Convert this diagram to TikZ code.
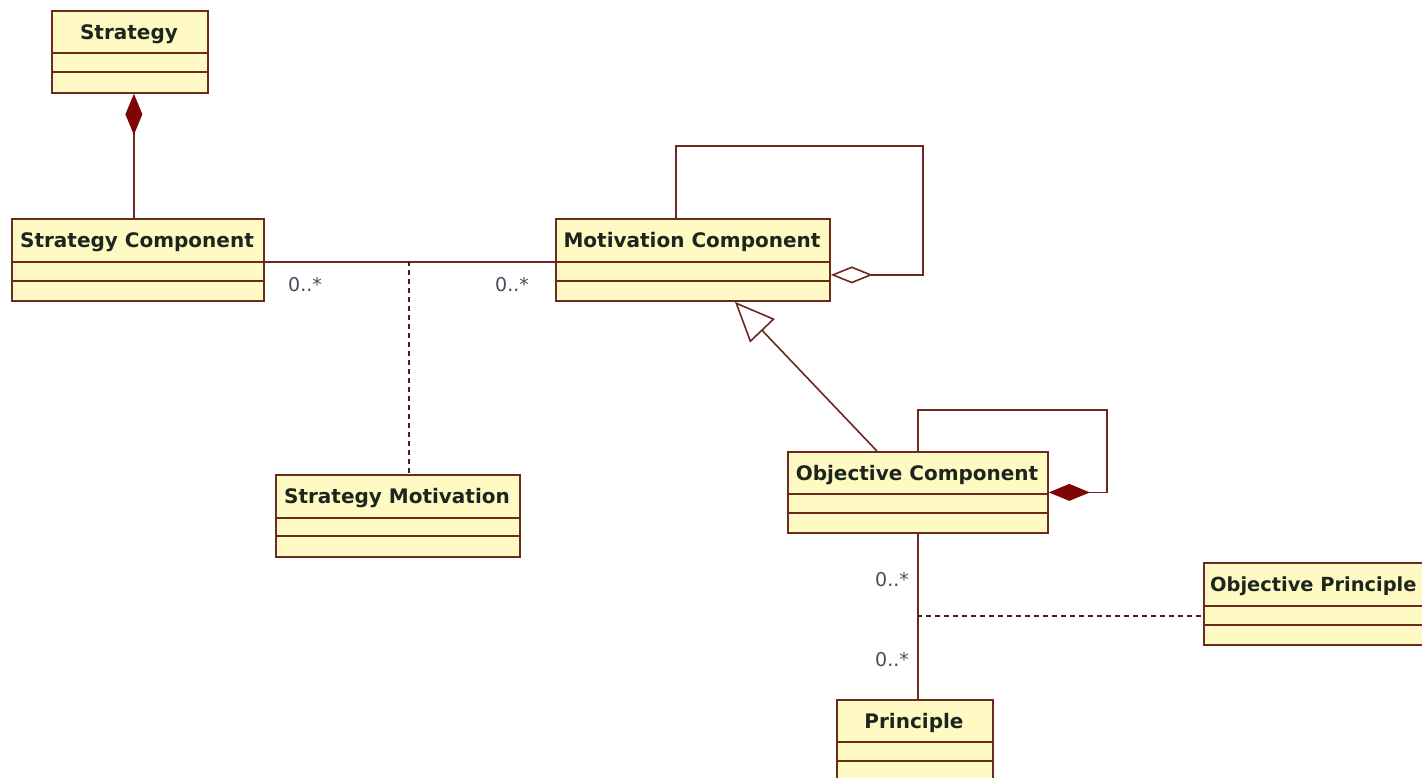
\documentclass[tikz,border=0pt]{standalone}
\usepackage{fontspec}
\setmainfont{DejaVu Sans}
\usetikzlibrary{arrows.meta}

\definecolor{classfill}{HTML}{FFFAC4}
\definecolor{classedge}{HTML}{6A2A1E}
\definecolor{darkred}{HTML}{7E0505}
\definecolor{titleink}{HTML}{1C261C}
\definecolor{multink}{HTML}{4A4A5C}

\tikzset{
  classbox/.style={draw=classedge, fill=classfill, line width=1.8pt, inner sep=0pt, rectangle},
  classsep/.style={draw=classedge, line width=1.6pt},
  classtitle/.style={text=titleink, font=\bfseries\fontsize{20}{24}\selectfont, inner sep=0pt, anchor=base},
  assoc/.style={draw=classedge, line width=1.6pt},
  anchorline/.style={draw=classedge!70!black, line width=1.4pt, dash pattern=on 5pt off 4pt},
  mult/.style={text=multink, font=\fontsize{19}{22}\selectfont, inner sep=0pt},
  composite/.style={assoc, {Diamond[length=41pt,width=17pt,fill=darkred,color=darkred]}-},
  shared/.style={assoc, {Diamond[open,length=42pt,width=17pt,fill=white]}-},
  inherit/.style={assoc, -{Triangle[open,length=40pt,width=34pt,fill=white]}},
}

% class box: name, left, top, right, bottom, first divider, second divider, title
\newcommand\umlclass[8]{%
  \node[classbox, anchor=north west,
        minimum width={(#4-#2)*1pt}, minimum height={(#5-#3)*1pt}] (#1) at (#2,#3) {};
  \draw[classsep] (#2,#6) -- (#4,#6);
  \draw[classsep] (#2,#7) -- (#4,#7);
  \node[classtitle] (#1-title) at ({(#2+#4)/2},{#3+29.5}) {#8};
}

\begin{document}
\begin{tikzpicture}[x=1pt,y=-1pt]
  \useasboundingbox (0,0) rectangle (1422,778);
  \fill[white] (0,0) rectangle (1422,778);
  \clip (0,0) rectangle (1422,778);

  % classes
  \umlclass{strat}{51}{10}{207}{92}{53}{72}{Strategy}
  \umlclass{scomp}{11}{218}{263}{300}{262}{281}{Strategy Component}
  \umlclass{mcomp}{555}{218}{829}{300}{262}{281}{Motivation Component}
  \umlclass{smot}{275}{474}{519}{556}{518}{536}{Strategy Motivation}
  \umlclass{ocomp}{787}{451}{1047}{532}{494}{513}{Objective Component}
  \umlclass{princ}{836}{699}{992}{784}{742}{761}{Principle}
  % right-hand class runs past the edge of the sheet
  \node[classbox, anchor=north west, minimum width=240pt, minimum height=82pt] (oprin) at (1203,562) {};
  \draw[classsep] (1203,606) -- (1443,606);
  \draw[classsep] (1203,625) -- (1443,625);
  \node[classtitle, anchor=base west, font=\bfseries\fontsize{19.4}{23}\selectfont]
    (oprin-title) at (1210,591.5) {Objective Principle};

  % Strategy is composed of strategy components
  \draw[composite] ([xshift=4pt]strat.south) -- ([xshift=-4pt]scomp.north);

  % strategy component -- motivation component, with association class
  \draw[assoc] ([yshift=-2pt]scomp.east) -- ([yshift=-2pt]mcomp.west);
  \coordinate (smotlink) at (409,261);
  \draw[anchorline] (smotlink) -- (smotlink |- smot.north);
  \node[mult] (m1) at (305,285) {0..*};
  \node[mult] (m2) at (512,285) {0..*};

  % motivation component aggregates itself
  \coordinate (mloop) at (923,146);
  \draw[shared] ([yshift=-15pt]mcomp.east) -| (mloop) -| ([xshift=-17pt]mcomp.north);

  % objective component specialises motivation component
  \draw[inherit] ([xshift=-41pt]ocomp.north) -- ([xshift=42pt]mcomp.south);

  % objective component is composed of objective components
  \coordinate (oloop) at (1107,410);
  \draw[composite] (ocomp.east) -| (oloop) -| (ocomp.north);

  % objective component -- principle, with association class
  \draw[assoc] (ocomp.south) -- (ocomp.south |- princ.north);
  \coordinate (oplink) at (917,616);
  \draw[anchorline] (oplink) -- (oplink -| oprin.west);
  \node[mult] (m3) at (892,580) {0..*};
  \node[mult] (m4) at (892,660) {0..*};
\end{tikzpicture}
\end{document}
